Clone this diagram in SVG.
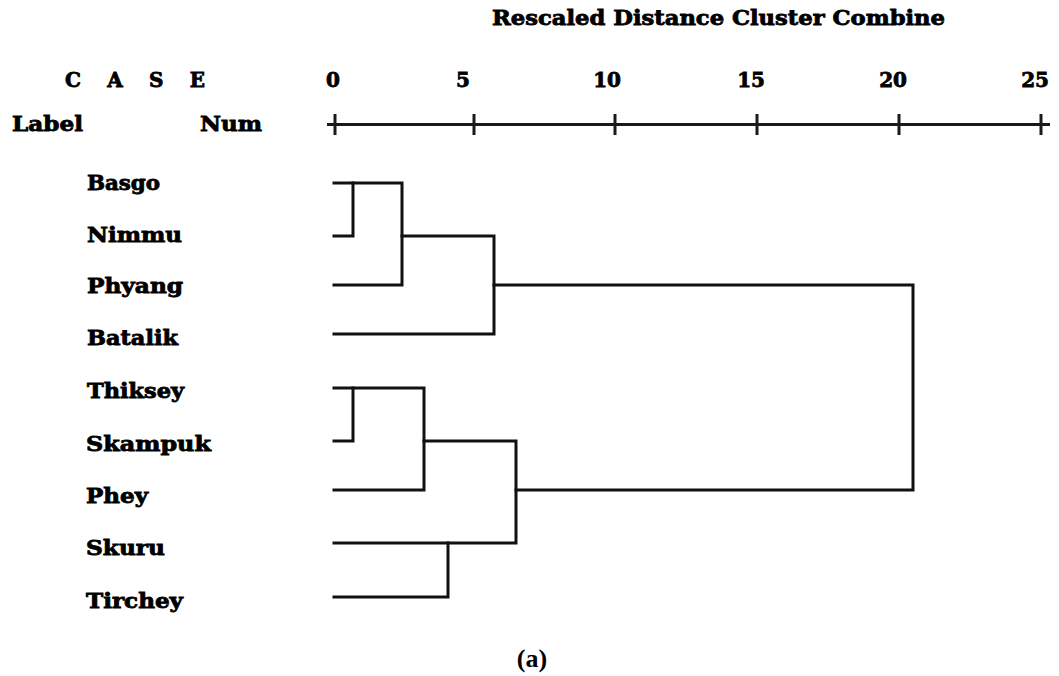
<svg xmlns="http://www.w3.org/2000/svg" width="1059" height="676" viewBox="0 0 1059 676">
  <style>
    .hd { font-family: "DejaVu Serif", "Liberation Serif", serif; font-weight: bold; font-size: 20px; fill: #000; stroke: #000; stroke-width: 0.8; }
    .lbl { font-family: "DejaVu Serif", "Liberation Serif", serif; font-weight: bold; font-size: 20px; fill: #000; stroke: #000; stroke-width: 0.8; }
    .cap { font-family: "Liberation Serif", "Times New Roman", serif; font-weight: bold; font-size: 26px; fill: #000; }
    .ln { fill: none; stroke: #111; stroke-width: 3; stroke-linecap: square; stroke-linejoin: miter; }
    .ax { fill: none; stroke: #1a1a1a; stroke-width: 3; }
  </style>
  <rect width="1059" height="676" fill="#fff"/>

  <!-- header -->
  <g id="title">
    <text class="hd" x="492" y="25" textLength="453" lengthAdjust="spacingAndGlyphs">Rescaled Distance Cluster Combine</text>
  </g>
  <g id="case-heading">
    <text class="hd" x="65" y="87" textLength="140" lengthAdjust="spacing">C A S E</text>
    <text class="hd" x="12" y="131" textLength="71" lengthAdjust="spacingAndGlyphs">Label</text>
    <text class="hd" x="200" y="131" textLength="62" lengthAdjust="spacingAndGlyphs">Num</text>
  </g>

  <!-- distance scale -->
  <g id="scale">
    <g class="hd" text-anchor="end">
      <text x="340" y="87">0</text>
      <text x="470" y="87">5</text>
      <text x="621" y="87">10</text>
      <text x="765" y="87">15</text>
      <text x="907" y="87">20</text>
      <text x="1049" y="87">25</text>
    </g>
    <path class="ax" d="M327,124.5 H1050 M335,114 V135 M474,114 V135 M615,114 V135 M757,114 V135 M899,114 V135 M1041,114 V135"/>
  </g>

  <!-- case labels -->
  <g id="basgo"><text class="lbl" x="87" y="190" textLength="73" lengthAdjust="spacingAndGlyphs">Basgo</text></g>
  <g id="nimmu"><text class="lbl" x="87" y="242" textLength="95" lengthAdjust="spacingAndGlyphs">Nimmu</text></g>
  <g id="phyang"><text class="lbl" x="87" y="293" textLength="96" lengthAdjust="spacingAndGlyphs">Phyang</text></g>
  <g id="batalik"><text class="lbl" x="87" y="345" textLength="91" lengthAdjust="spacingAndGlyphs">Batalik</text></g>
  <g id="thiksey"><text class="lbl" x="87" y="398" textLength="97" lengthAdjust="spacingAndGlyphs">Thiksey</text></g>
  <g id="skampuk"><text class="lbl" x="86" y="451" textLength="125" lengthAdjust="spacingAndGlyphs">Skampuk</text></g>
  <g id="phey"><text class="lbl" x="86" y="503" textLength="62" lengthAdjust="spacingAndGlyphs">Phey</text></g>
  <g id="skuru"><text class="lbl" x="86" y="555" textLength="79" lengthAdjust="spacingAndGlyphs">Skuru</text></g>
  <g id="tirchey"><text class="lbl" x="86" y="608" textLength="97" lengthAdjust="spacingAndGlyphs">Tirchey</text></g>

  <!-- dendrogram links -->
  <g id="connectors" class="ln">
    <!-- upper cluster -->
    <path d="M334,183 H402 V285 H334"/>
    <path d="M334,236 H353 V183"/>
    <path d="M402,236 H494 V334 H334"/>
    <!-- lower cluster -->
    <path d="M334,388 H424 V490 H334"/>
    <path d="M334,441 H353 V388"/>
    <path d="M424,441 H516 V543 H334"/>
    <path d="M334,597 H448 V543"/>
    <!-- root -->
    <path d="M494,285 H913 V490 H516"/>
  </g>

  <g id="caption">
    <text class="cap" x="532" y="667" text-anchor="middle">(a)</text>
  </g>
</svg>
